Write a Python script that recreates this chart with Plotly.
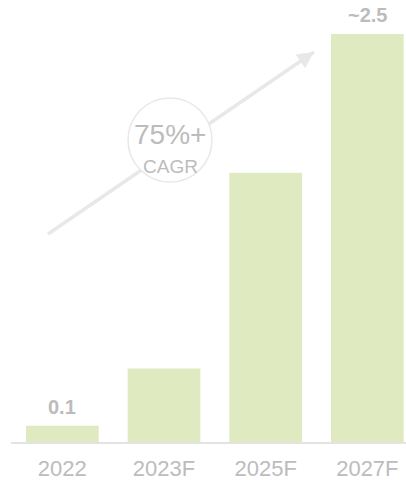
import plotly.graph_objects as go

# Market size by year (units as labelled on the bars)
years = ["2022", "2023F", "2025F", "2027F"]
values = [0.1, 0.45, 1.65, 2.5]
value_labels = ["0.1", "", "", "~2.5"]

BAR_COLOR = "#dfeac1"
TEXT_GRAY = "#bcbcbc"
LIGHT_GRAY = "#e8e8e8"
FONT = "Liberation Sans, Arial, sans-serif"

W, H = 406, 484
ML, MR, MT, MB = 11, 0, 0, 42
PW, PH = W - ML - MR, H - MT - MB


def px_to_paper(x, y):
    return (x - ML) / PW, (H - MB - y) / PH


fig = go.Figure()
fig.add_trace(go.Bar(
    x=years,
    y=values,
    width=0.715,
    marker=dict(color=BAR_COLOR, line=dict(width=0)),
    hoverinfo="skip",
))

# Value labels above the bars that carry one (x given as category index)
for i, (val, label) in enumerate(zip(values, value_labels)):
    if label:
        fig.add_annotation(x=i, y=val, text=label, showarrow=False,
                           xanchor="center", yanchor="bottom", yshift=6,
                           font=dict(family=FONT, size=20, color=TEXT_GRAY,
                                     weight="bold"))

# Growth arrow: a line running under the CAGR badge, plus an arrowhead at the tip
tail = px_to_paper(48, 234)
tip = px_to_paper(314, 52)
fig.add_shape(type="line", xref="paper", yref="paper",
              x0=tail[0], y0=tail[1], x1=tip[0], y1=tip[1],
              line=dict(color=LIGHT_GRAY, width=3.5), layer="above")

# CAGR badge
cx, cy = px_to_paper(170, 140)
fig.add_shape(type="circle", xref="paper", yref="paper",
              xsizemode="pixel", ysizemode="pixel",
              xanchor=cx, yanchor=cy, x0=-42, x1=42, y0=-42, y1=42,
              fillcolor="white", line=dict(color=LIGHT_GRAY, width=1.5),
              layer="above")

fig.add_annotation(xref="paper", yref="paper", x=tip[0], y=tip[1],
                   ax=-0.824 * 22, ay=0.566 * 22, showarrow=True,
                   arrowhead=2, arrowsize=1.1, arrowwidth=3,
                   arrowcolor=LIGHT_GRAY, text="")

t1 = px_to_paper(170, 134)
fig.add_annotation(xref="paper", yref="paper", x=t1[0], y=t1[1],
                   xanchor="center", yanchor="middle",
                   text="75%+", showarrow=False,
                   font=dict(family=FONT, size=28, color=TEXT_GRAY))
t2 = px_to_paper(170, 166)
fig.add_annotation(xref="paper", yref="paper", x=t2[0], y=t2[1],
                   xanchor="center", yanchor="middle",
                   text="CAGR", showarrow=False,
                   font=dict(family=FONT, size=19, color=TEXT_GRAY))

fig.update_layout(
    width=W, height=H,
    margin=dict(l=ML, r=MR, t=MT, b=MB, pad=0),
    paper_bgcolor="white", plot_bgcolor="white",
    showlegend=False,
    xaxis=dict(
        type="category",
        range=[-0.505, -0.505 + PW / 101.67],
        showline=True, linecolor="#e3e3e3", linewidth=2,
        showgrid=False, zeroline=False, ticks="",
        ticklabelstandoff=6,
        tickfont=dict(family=FONT, size=22, color=TEXT_GRAY),
        fixedrange=True,
    ),
    yaxis=dict(
        range=[0, PH / 163.2],
        visible=False, showgrid=False, zeroline=False,
        fixedrange=True,
    ),
)

fig.write_html("out.html", config={"displayModeBar": False})
